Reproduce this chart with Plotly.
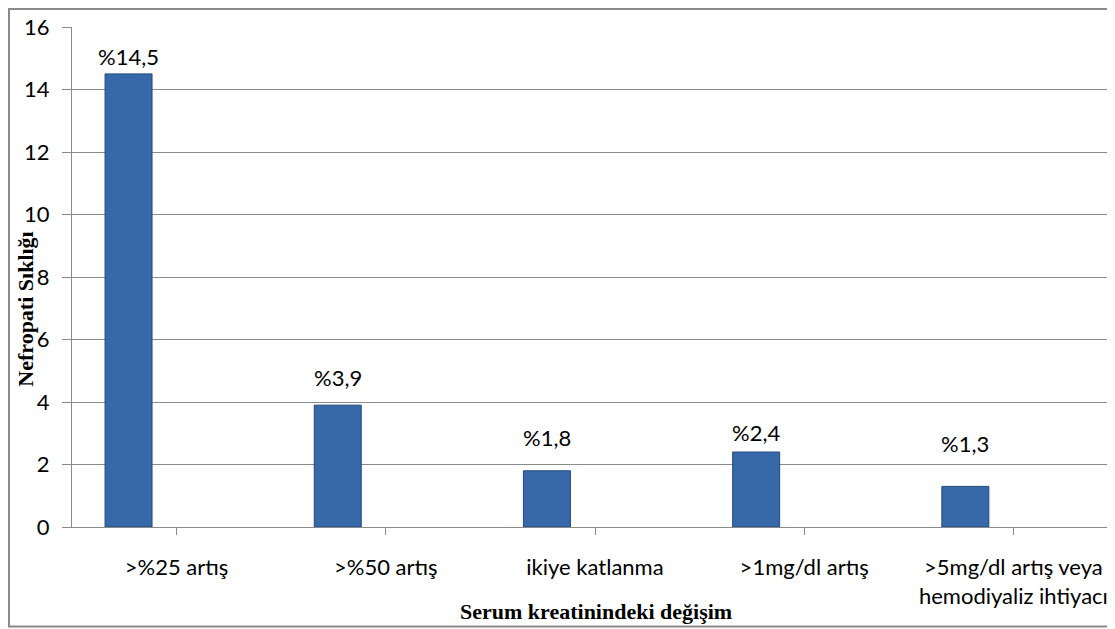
import plotly.graph_objects as go

categories = [">%25 artış", ">%50 artış", "ikiye katlanma", ">1mg/dl artış",
              ">5mg/dl artış veya<br>hemodiyaliz ihtiyacı"]
values = [14.5, 3.9, 1.8, 2.4, 1.3]
labels = ["%14,5", "%3,9", "%1,8", "%2,4", "%1,3"]
label_shift = [17, 28, 33, 20, 43]  # px above bar top, as placed in the original

OFF = 8  # page body margin
W, H = 1115, 629
# desired on-screen plot box: x 72..1118, y 27..527.5
L = 72 - OFF
T = 27 - OFF
R = W - (1118 - OFF)
B = H - (527.5 - OFF)
if R < 0:
    R = 0
pw, ph = W - L - R, H - T - B

def px_x(px):
    return (px - OFF - L) / pw

def px_y(py):
    return (H - B - (py - OFF)) / ph

FONT = "Lato"
BAR_W = 0.2246
BAR_OFF = -0.342

fig = go.Figure()
fig.add_trace(go.Bar(
    x=list(range(len(categories))), y=values,
    width=BAR_W, offset=BAR_OFF,
    marker=dict(color="#3668aa", line=dict(color="#234a7c", width=1)),
    hoverinfo="skip",
))

for i, (v, t, s) in enumerate(zip(values, labels, label_shift)):
    fig.add_annotation(x=i + BAR_OFF + BAR_W / 2, y=v, text=t, showarrow=False,
                       yshift=s, font=dict(family=FONT, size=22, color="#000"),
                       xref="x", yref="y")

# axis titles
fig.add_annotation(x=px_x(596), y=px_y(612), xref="paper", yref="paper",
                   xanchor="center", yanchor="middle",
                   text="<b>Serum kreatinindeki değişim</b>", showarrow=False,
                   font=dict(family="Liberation Serif", size=22, color="#000"))
fig.add_annotation(x=px_x(26), y=px_y(310), xref="paper", yref="paper",
                   xanchor="center", yanchor="middle",
                   text="<b>Nefropati Sıklığı</b>", showarrow=False, textangle=-90,
                   font=dict(family="Liberation Serif", size=22, color="#000"))

# outer frame
fig.add_shape(type="rect", xref="paper", yref="paper",
              x0=px_x(9), x1=px_x(1135), y0=px_y(627), y1=px_y(9),
              line=dict(color="#8a8a8a", width=2), layer="below")

fig.update_layout(
    width=W, height=H,
    margin=dict(l=L, r=R, t=T, b=B, autoexpand=False),
    paper_bgcolor="white", plot_bgcolor="white",
    showlegend=False,
    xaxis=dict(
        tickmode="array", tickvals=list(range(len(categories))), ticktext=categories,
        range=[-0.5, len(categories) - 0.5],
        showgrid=False, showline=True, linecolor="#8a8a8a", linewidth=1,
        ticks="outside", ticklen=7, tickcolor="#8a8a8a",
        tickfont=dict(family=FONT, size=22, color="#000"),
        ticklabelstandoff=14,
        zeroline=False,
    ),
    yaxis=dict(
        range=[0, 16], dtick=2, tick0=0,
        showgrid=True, gridcolor="#8a8a8a", gridwidth=1,
        showline=True, linecolor="#8a8a8a", linewidth=1,
        ticks="outside", ticklen=9, tickcolor="#8a8a8a",
        tickfont=dict(family=FONT, size=22, color="#000"),
        ticklabelstandoff=8,
        zeroline=False,
    ),
)

fig.update_xaxes(tickson="boundaries")

fig.write_html("out.html")
